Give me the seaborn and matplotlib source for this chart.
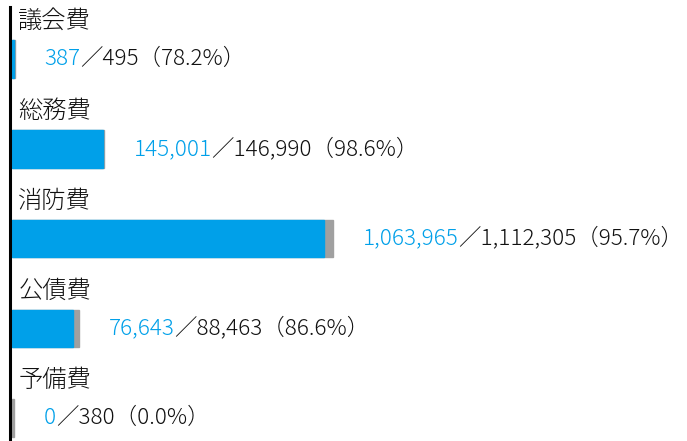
import numpy as np
import pandas as pd
import matplotlib
matplotlib.use('Agg')
import matplotlib.pyplot as plt
import seaborn as sns

# 歳出の執行状況（支出済額／予算現額）
categories = ['議会費', '総務費', '消防費', '公債費', '予備費']
spent = [387, 145001, 1063965, 76643, 0]
budget = [495, 146990, 1112305, 88463, 380]
rates = ['78.2%', '98.6%', '95.7%', '86.6%', '0.0%']

df = pd.DataFrame({'項目': categories, '支出済額': spent, '予算現額': budget})

sns.set_theme(style='white')
plt.rcParams['font.family'] = ['Noto Sans CJK JP', 'DejaVu Sans']

BLUE = '#00a0e9'
GRAY = '#a0a0a0'

fig = plt.figure(figsize=(6.87, 4.41), dpi=100)
ax = fig.add_axes([12 / 687, 0, 1 - 12 / 687, 434 / 441])

# 棒の長さは元の図に合わせて累乗スケールにする
p = 0.62
fwd = lambda x: np.power(np.clip(x, 0, None), p)
inv = lambda x: np.power(np.clip(x, 0, None), 1 / p)
ax.set_xscale('function', functions=(fwd, inv))

# 小さい値も見えるように縁を少しつける
sns.barplot(data=df, y='項目', x='予算現額', orient='h', color=GRAY,
            saturation=1, width=0.42, errorbar=None, ax=ax,
            edgecolor=GRAY, linewidth=1.0)
sns.barplot(data=df[df['支出済額'] > 0], y='項目', x='支出済額', orient='h',
            color=BLUE, saturation=1, width=0.42, errorbar=None, ax=ax,
            edgecolor=BLUE, linewidth=1.0)

ax.set_xlim(0, inv(fwd(max(budget)) * 675 / 321))
ax.set_ylim(4.254, -0.579)

for i in range(len(categories)):
    # 項目名は棒の上
    ax.annotate(categories[i], xy=(0, i - 0.418), xytext=(4.5, 0),
                textcoords='offset points', va='center', ha='left',
                fontsize=17.5, fontweight='light', color='#111111')
    # 数値は棒の右
    t1 = ax.annotate(f'{spent[i]:,}', xy=(budget[i], i), xytext=(21.5, 0),
                     textcoords='offset points', va='center', ha='left',
                     fontsize=16.2, fontweight='light', color=BLUE)
    ax.annotate(f'／{budget[i]:,}（{rates[i]}）', xy=(1, 0), xycoords=t1,
                va='bottom', ha='left', fontsize=16.2, fontweight='light',
                color='#111111')

for s in ['top', 'right', 'bottom']:
    ax.spines[s].set_visible(False)
ax.spines['left'].set_color('black')
ax.spines['left'].set_linewidth(2.2)
ax.spines['left'].set_position(('outward', 1.5))
ax.spines['left'].set_zorder(5)
ax.set_xticks([])
ax.set_yticks([])
ax.set_xlabel('')
ax.set_ylabel('')

fig.savefig('out.png', dpi=100)
